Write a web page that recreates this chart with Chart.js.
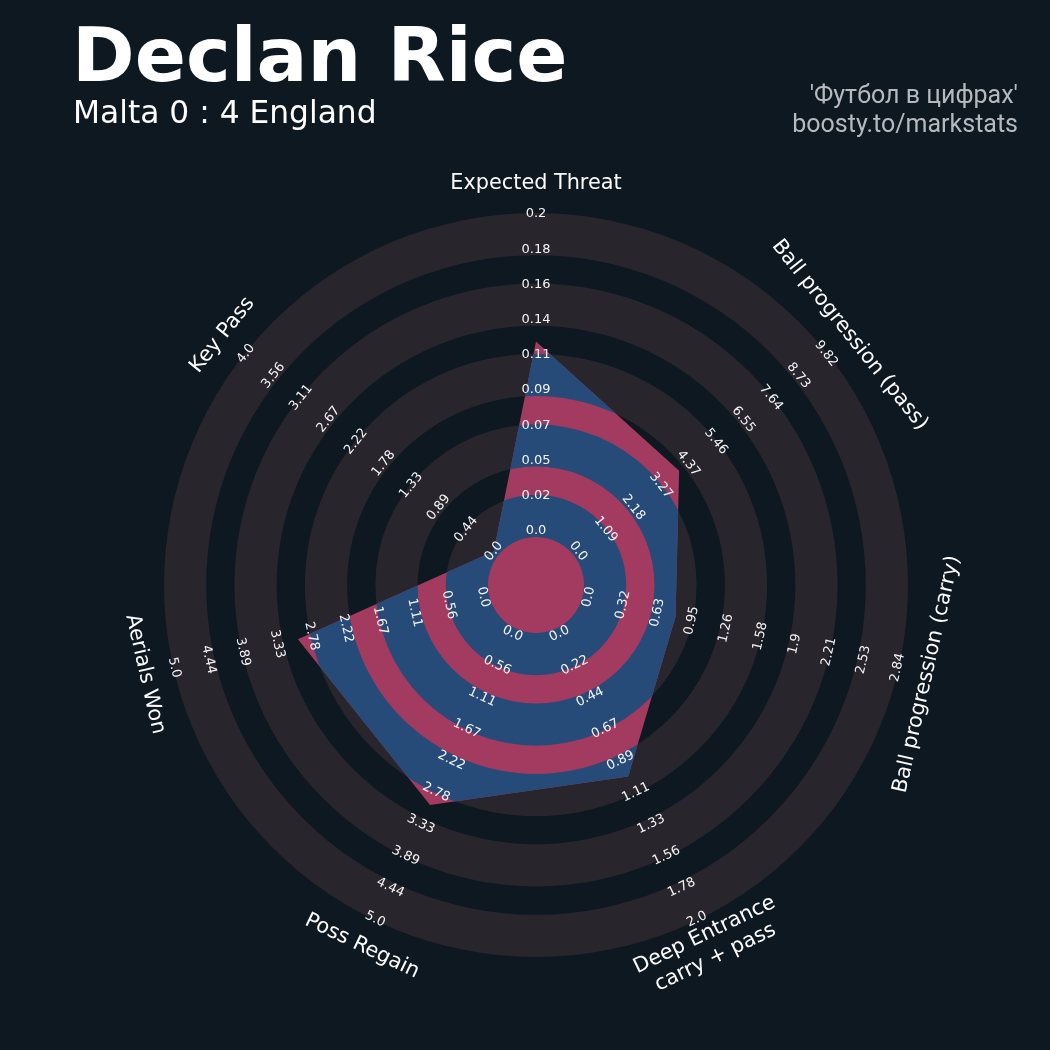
<!DOCTYPE html>
<html>
<head>
<meta charset="utf-8">
<script src="https://cdn.jsdelivr.net/npm/chart.js@4.4.1/dist/chart.umd.min.js"></script>
<style>
  body { margin: 0; background: #0e1821; }
  #wrap { position: relative; width: 1050px; height: 1050px; overflow: hidden; }
  #radar { position: absolute; left: 0; top: 0; }
  .title { position: absolute; left: 72px; top: 18px; font: bold 75.5px "DejaVu Sans"; line-height: 75px; color: #fff; white-space: nowrap; }
  .subtitle { position: absolute; left: 73px; top: 97px; font: 31.3px "DejaVu Sans"; line-height: 31px; color: #fff; white-space: nowrap; }
  .credit { position: absolute; right: 32px; top: 80px; font: 25px Roboto; line-height: 29px; color: #b6babe; text-align: right; white-space: nowrap; }
</style>
</head>
<body>
<div id="wrap">
  <canvas id="radar" width="1050" height="1050"></canvas>
  <div class="title">Declan Rice</div>
  <div class="subtitle">Malta 0 : 4 England</div>
  <div class="credit">'Футбол в цифрах'<br>boosty.to/markstats</div>
</div>
<script>
// parameters, clockwise from the top
const params = ['Expected Threat', 'Ball progression (pass)', 'Ball progression (carry)',
  ['Deep Entrance', 'carry + pass'], 'Poss Regain', 'Aerials Won', 'Key Pass'];
const values = [0.122, 4.0, 0.8, 1.0, 3.0, 3.0, 0.0];
const rangeMin = [0, 0, 0, 0, 0, 0, 0];
const rangeMax = [0.204, 9.823, 2.845, 2.0, 5.0, 5.0, 4.0];
const tickLabels = [
  ['0.0', '0.02', '0.05', '0.07', '0.09', '0.11', '0.14', '0.16', '0.18', '0.2'],
  ['0.0', '1.09', '2.18', '3.27', '4.37', '5.46', '6.55', '7.64', '8.73', '9.82'],
  ['0.0', '0.32', '0.63', '0.95', '1.26', '1.58', '1.9', '2.21', '2.53', '2.84'],
  ['0.0', '0.22', '0.44', '0.67', '0.89', '1.11', '1.33', '1.56', '1.78', '2.0'],
  ['0.0', '0.56', '1.11', '1.67', '2.22', '2.78', '3.33', '3.89', '4.44', '5.0'],
  ['0.0', '0.56', '1.11', '1.67', '2.22', '2.78', '3.33', '3.89', '4.44', '5.0'],
  ['0.0', '0.44', '0.89', '1.33', '1.78', '2.22', '2.67', '3.11', '3.56', '4.0']
];

const RING = '#28252c';
const RADAR = '#a33a60';
const RADAR_RING = '#274b78';

// each axis has its own range, so the polygon lives on a 0..1 scale
const scaled = values.map((v, i) => (v - rangeMin[i]) / (rangeMax[i] - rangeMin[i]));
const steps = tickLabels[0].length - 1;

function annulus(ctx, x, y, r0, r1) {
  ctx.beginPath();
  ctx.arc(x, y, r1, 0, Math.PI * 2);
  ctx.arc(x, y, Math.max(r0, 0), 0, Math.PI * 2, true);
  ctx.closePath();
  ctx.fill();
}

function drawRings(chart, color) {
  const { ctx } = chart;
  const r = chart.scales.r;
  ctx.fillStyle = color;
  for (let i = 0; i < 5; i++) {
    const inner = r.getDistanceFromCenterForValue(2 * i / steps) - 6;
    const outer = r.getDistanceFromCenterForValue((2 * i + 1) / steps) + 1;
    annulus(ctx, r.xCenter, r.yCenter, inner, outer);
  }
}

// keep text readable: flip the lower half
function tangent(i) {
  let deg = i * 360 / params.length;
  if (deg > 90 && deg < 270) deg -= 180;
  return deg * Math.PI / 180;
}

const radarDecor = {
  id: 'radarDecor',
  beforeDatasetsDraw(chart) {
    chart.ctx.save();
    drawRings(chart, RING);
    chart.ctx.restore();
  },
  afterDatasetsDraw(chart) {
    const { ctx } = chart;
    const r = chart.scales.r;
    const pts = chart.getDatasetMeta(0).data;

    ctx.save();
    ctx.beginPath();
    pts.forEach((p, i) => i ? ctx.lineTo(p.x, p.y) : ctx.moveTo(p.x, p.y));
    ctx.closePath();
    ctx.clip();
    drawRings(chart, RADAR_RING);
    ctx.restore();

    ctx.save();
    ctx.textAlign = 'center';
    ctx.textBaseline = 'middle';

    // range labels along every axis
    ctx.font = '13px "DejaVu Sans"';
    ctx.fillStyle = '#f4f4f4';
    tickLabels.forEach((labels, i) => {
      labels.forEach((txt, k) => {
        const p = r.getPointPosition(i, r.getDistanceFromCenterForValue(k / steps));
        ctx.save();
        ctx.translate(p.x, p.y);
        ctx.rotate(tangent(i));
        ctx.fillText(txt, 0, 0);
        ctx.restore();
      });
    });

    // parameter names
    ctx.font = '20.8px "DejaVu Sans"';
    ctx.fillStyle = '#fcfcfc';
    params.forEach((name, i) => {
      const p = r.getPointPosition(i, r.getDistanceFromCenterForValue(1) + 30);
      const lines = Array.isArray(name) ? name : [name];
      ctx.save();
      ctx.translate(p.x, p.y);
      ctx.rotate(tangent(i));
      lines.forEach((line, j) => {
        ctx.fillText(line, 0, (j - (lines.length - 1) / 2) * 25);
      });
      ctx.restore();
    });
    ctx.restore();
  }
};

new Chart(document.getElementById('radar'), {
  type: 'radar',
  data: {
    labels: params.map(p => Array.isArray(p) ? p.join(' ') : p),
    datasets: [{
      data: scaled,
      backgroundColor: RADAR,
      borderWidth: 0,
      pointRadius: 0,
      pointHoverRadius: 0,
      fill: 'start',
      tension: 0
    }]
  },
  options: {
    responsive: false,
    animation: false,
    layout: { padding: { left: 163, right: 141, top: 212, bottom: 92 } },
    plugins: { legend: { display: false }, tooltip: { enabled: false } },
    scales: {
      r: {
        min: -54 / 317,
        max: 319 / 317,
        ticks: { display: false },
        grid: { display: false },
        angleLines: { display: false },
        pointLabels: { display: false }
      }
    }
  },
  plugins: [radarDecor]
});
</script>
</body>
</html>
